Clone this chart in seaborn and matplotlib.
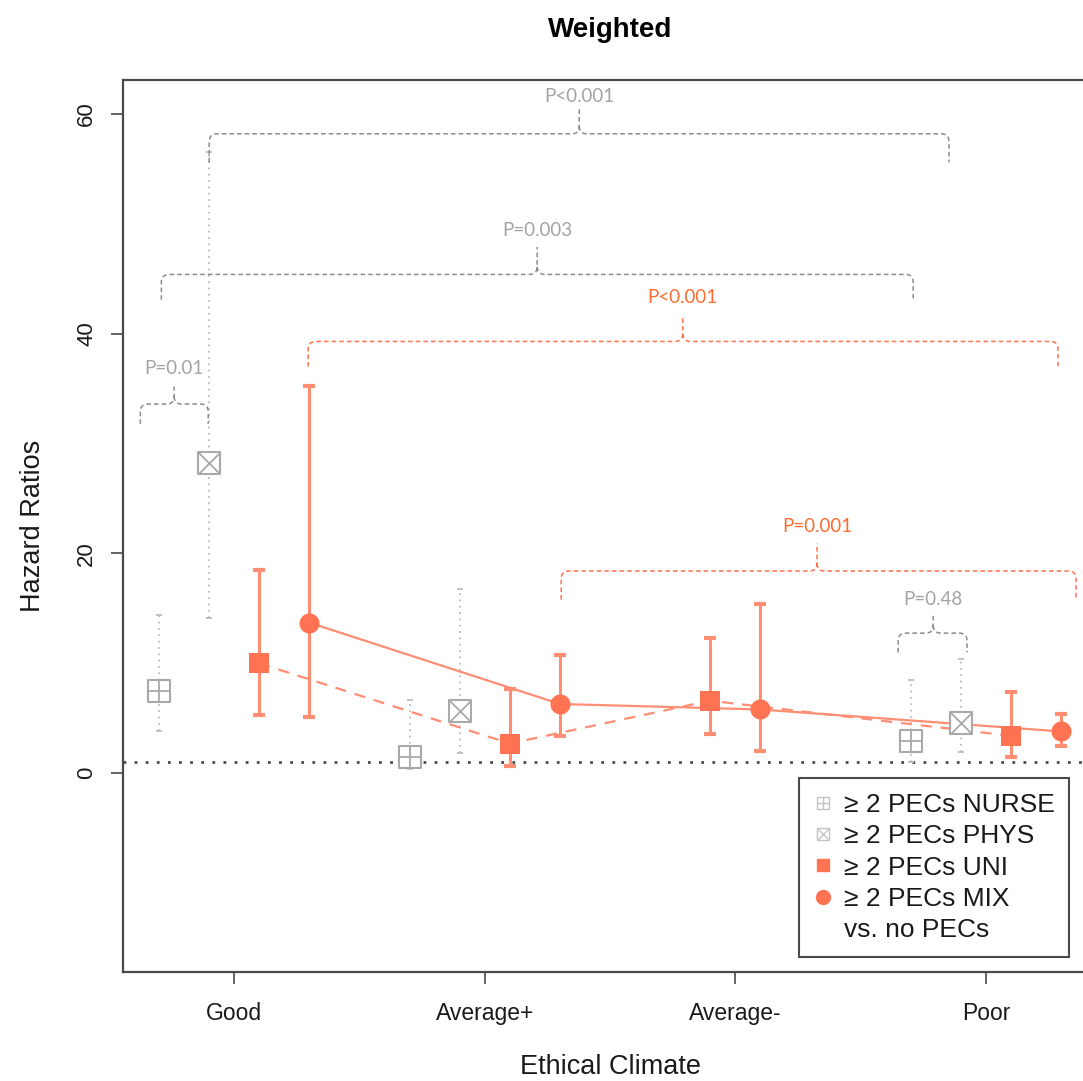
import numpy as np
import pandas as pd
import matplotlib
matplotlib.use("Agg")
import matplotlib.pyplot as plt
import seaborn as sns
from matplotlib.path import Path
from matplotlib.patches import PathPatch
from matplotlib.lines import Line2D

# categories and hazard ratios (point, lower CI, upper CI)
categories = ["Good", "Average+", "Average-", "Poor"]

nurse_hr = [7.5, 1.5, np.nan, 2.9]
nurse_lo = [3.8, 0.4, np.nan, 1.0]
nurse_hi = [14.4, 6.7, np.nan, 8.5]

phys_hr = [28.2, 5.7, np.nan, 4.6]
phys_lo = [14.1, 1.8, np.nan, 1.9]
phys_hi = [56.5, 16.8, np.nan, 10.4]

uni_hr = [10.0, 2.7, 6.6, 3.4]
uni_lo = [5.3, 0.7, 3.6, 1.5]
uni_hi = [18.5, 7.7, 12.3, 7.4]

mix_hr = [13.7, 6.3, 5.8, 3.8]
mix_lo = [5.1, 3.4, 2.0, 2.5]
mix_hi = [35.2, 10.8, 15.4, 5.4]

# p-value brackets
bracket_labels = ["P=0.01", "P=0.003", "P<0.001", "P<0.001", "P=0.001", "P=0.48"]
bracket_group = ["grey", "grey", "grey", "orange", "orange", "grey"]
bracket_x0 = [0.625, 0.709, 0.90, 1.295, 2.305, 3.65]
bracket_x1 = [0.896, 3.71, 3.853, 4.288, 4.36, 3.925]
bracket_xc = [0.76, 2.209, 2.377, 2.79, 3.326, 3.79]
bracket_y = [33.6, 45.4, 58.2, 39.3, 18.4, 12.75]
bracket_drop = [1.8, 2.3, 2.6, 2.3, 2.6, 1.75]
bracket_tip = [1.6, 2.5, 2.5, 2.4, 2.5, 1.8]
bracket_text_y = [36.8, 49.4, 61.6, 43.3, 22.5, 15.8]

# dodge of each series within a category
nurse_dodge = [-0.3, -0.3, -0.3, -0.3]
phys_dodge = [-0.1, -0.1, -0.1, -0.1]
uni_dodge = [0.1, 0.1, -0.1, 0.1]
mix_dodge = [0.3, 0.3, 0.1, 0.3]

ORANGE = "#FF7352"
ORANGE_BAR = "#FF8E74"
ORANGE_TXT = "#FF6A2E"
GREY = "#A9A9A9"
GREY_TXT = "#A3A3A3"
GREY_LINE = "#8C8C8C"
AXIS = "#4A4A4A"

sns.set_style("white")
plt.rcParams["font.family"] = ["Liberation Sans", "DejaVu Sans"]

base = np.arange(1, len(categories) + 1)


def frame(name, hr, lo, hi, dodge):
    return pd.DataFrame({"series": name, "category": categories,
                         "x": base + np.array(dodge), "hr": hr, "lo": lo, "hi": hi})


df = pd.concat([frame("NURSE", nurse_hr, nurse_lo, nurse_hi, nurse_dodge),
                frame("PHYS", phys_hr, phys_lo, phys_hi, phys_dodge),
                frame("UNI", uni_hr, uni_lo, uni_hi, uni_dodge),
                frame("MIX", mix_hr, mix_lo, mix_hi, mix_dodge)], ignore_index=True)

fig = plt.figure(figsize=(10.83, 10.81), dpi=100)
ax = fig.add_axes([0.1136, 0.1008, 0.8994, 0.8252])

# reference line at HR = 1
ax.axhline(1, color=AXIS, lw=2, ls=(0, (1, 3)), zorder=1)

# grey series: dotted whiskers, hollow boxed markers
for name in ["NURSE", "PHYS"]:
    d = df[df.series == name].dropna()
    eb = ax.errorbar(d.x, d.hr, yerr=[d.hr - d.lo, d.hi - d.hr], fmt="none",
                     ecolor="#BDBDBD", elinewidth=1.3, capsize=2.5, capthick=1.3, zorder=2)
    eb[2][0].set_linestyle((0, (1, 2.5)))
    for cap in eb[1]:
        cap.set_color("#8A8A8A")
    cross = "+" if name == "NURSE" else "x"
    sns.scatterplot(data=d, x="x", y="hr", marker="s", s=245, facecolor="white",
                    edgecolor=GREY, linewidth=1.5, ax=ax, zorder=4, legend=False)
    sns.scatterplot(data=d, x="x", y="hr", marker=cross, s=245, color=GREY,
                    linewidth=1.3, ax=ax, zorder=5, legend=False)

# orange series: connecting lines, solid whiskers, filled markers
for name, ls, mk in [("UNI", (0, (5, 4)), "s"), ("MIX", "-", "o")]:
    d = df[df.series == name]
    sns.lineplot(data=d, x="x", y="hr", sort=False, estimator=None, color=ORANGE_BAR,
                 lw=1.6, linestyle=ls, ax=ax, zorder=2, legend=False)
    ax.errorbar(d.x, d.hr, yerr=[d.hr - d.lo, d.hi - d.hr], fmt="none",
                ecolor=ORANGE_BAR, elinewidth=2.2, capsize=4.5, capthick=3, zorder=3)
    sns.scatterplot(data=d, x="x", y="hr", marker=mk, s=208, color=ORANGE,
                    linewidth=0, ax=ax, zorder=6, legend=False)

# p-value curly brackets
for lab, grp, x0, x1, xc, y, drop, tip, ty in zip(bracket_labels, bracket_group,
                                                   bracket_x0, bracket_x1, bracket_xc,
                                                   bracket_y, bracket_drop, bracket_tip,
                                                   bracket_text_y):
    dx, dy = 0.03, 0.7
    verts = [(x0, y - drop), (x0, y - dy), (x0, y), (x0 + dx, y), (xc - dx, y),
             (xc, y), (xc, y + dy), (xc, y + tip),
             (xc, y + dy), (xc, y), (xc + dx, y), (x1 - dx, y),
             (x1, y), (x1, y - dy), (x1, y - drop)]
    codes = [Path.MOVETO, Path.LINETO, Path.CURVE3, Path.CURVE3, Path.LINETO,
             Path.CURVE3, Path.CURVE3, Path.LINETO,
             Path.MOVETO, Path.CURVE3, Path.CURVE3, Path.LINETO,
             Path.CURVE3, Path.CURVE3, Path.LINETO]
    lc = GREY_LINE if grp == "grey" else ORANGE
    tc = GREY_TXT if grp == "grey" else ORANGE_TXT
    ax.add_patch(PathPatch(Path(verts, codes), fill=False, edgecolor=lc, lw=1.1,
                           ls=(0, (3, 2)), zorder=2))
    ax.text(xc, ty, lab, ha="center", va="center", color=tc,
            fontsize=13.5, family=["Lato", "DejaVu Sans"], zorder=7)

ax.set_xlim(0.556, 4.444)
ax.set_ylim(-18.1, 63.1)
ax.set_xticks(base)
ax.set_xticklabels(categories)
ax.set_yticks([0, 20, 40, 60])
ax.tick_params(axis="x", length=8.5, width=1.2, color=AXIS, labelsize=16.5, pad=13,
               bottom=True, labelcolor="#1a1a1a")
ax.tick_params(axis="y", length=8.5, width=1.2, color=AXIS, labelsize=16, pad=10,
               left=True, labelcolor="#1a1a1a")
for lbl in ax.get_yticklabels():
    lbl.set_rotation(90)
    lbl.set_va("center")
for sp in ax.spines.values():
    sp.set_color(AXIS)
    sp.set_linewidth(1.6)

ax.set_xlabel("Ethical Climate", fontsize=19.5, color="#1a1a1a", labelpad=21)
ax.set_ylabel("Hazard Ratios", fontsize=19.5, color="#1a1a1a", labelpad=22)
ax.set_title("Weighted", fontsize=20, fontweight="bold", color="black", pad=31)

# legend
h_nurse = (Line2D([], [], ls="none", marker="s", ms=9, mfc="white", mec="#C4C4C4", mew=1),
           Line2D([], [], ls="none", marker="+", ms=9, mec="#C4C4C4", mew=1))
h_phys = (Line2D([], [], ls="none", marker="s", ms=9, mfc="white", mec="#C4C4C4", mew=1),
          Line2D([], [], ls="none", marker="x", ms=9, mec="#C4C4C4", mew=1))
h_uni = Line2D([], [], ls="none", marker="s", ms=9, color=ORANGE)
h_mix = Line2D([], [], ls="none", marker="o", ms=10, color=ORANGE)
h_blank = Line2D([], [], ls="none")
leg = ax.legend([h_nurse, h_phys, h_uni, h_mix, h_blank],
                ["\u2265 2 PECs NURSE", "\u2265 2 PECs PHYS", "\u2265 2 PECs UNI",
                 "\u2265 2 PECs MIX", "vs. no PECs"],
                loc="lower right", bbox_to_anchor=(1069 / 1083, 1 - 957 / 1081),
                bbox_transform=fig.transFigure, fontsize=19, frameon=True,
                fancybox=False, framealpha=1, edgecolor=AXIS, borderpad=0.55,
                labelspacing=0.28, handlelength=0.7, handletextpad=0.45,
                borderaxespad=0)
leg.get_frame().set_linewidth(1.5)
for t in leg.get_texts():
    t.set_color("#1a1a1a")

fig.savefig("out.png", dpi=100)
